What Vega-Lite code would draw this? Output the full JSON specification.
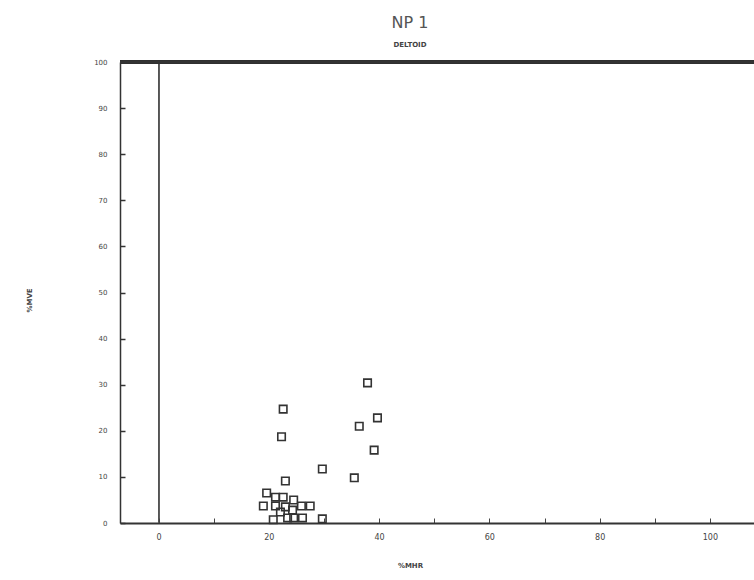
{
  "$schema": "https://vega.github.io/schema/vega-lite/v6.json",
  "width": 634,
  "height": 461,
  "autosize": {"type": "none"},
  "padding": {"left": 120, "top": 62, "right": 0, "bottom": 57},
  "background": "white",
  "config": {
    "view": {"stroke": null},
    "font": "DejaVu Sans"
  },
  "title": {
    "text": "NP 1",
    "subtitle": "DELTOID",
    "anchor": "middle",
    "dx": -27,
    "offset": 10,
    "fontSize": 16,
    "fontWeight": "normal",
    "color": "#555555",
    "subtitleFontSize": 7,
    "subtitleFontWeight": "bold",
    "subtitleColor": "#444444",
    "subtitlePadding": 10
  },
  "data": {
    "values": [
      {"mhr": 37.9, "mve": 30.4},
      {"mhr": 22.6, "mve": 24.7},
      {"mhr": 39.7, "mve": 22.8},
      {"mhr": 36.4, "mve": 21.0},
      {"mhr": 22.3, "mve": 18.7},
      {"mhr": 39.1, "mve": 15.8},
      {"mhr": 29.7, "mve": 11.7},
      {"mhr": 35.5, "mve": 9.8},
      {"mhr": 23.0, "mve": 9.1},
      {"mhr": 19.6, "mve": 6.5},
      {"mhr": 21.2, "mve": 5.6},
      {"mhr": 22.6, "mve": 5.6},
      {"mhr": 19.0, "mve": 3.7},
      {"mhr": 21.2, "mve": 3.7},
      {"mhr": 24.5, "mve": 5.0},
      {"mhr": 25.9, "mve": 3.7},
      {"mhr": 27.5, "mve": 3.7},
      {"mhr": 24.3, "mve": 2.8},
      {"mhr": 22.1, "mve": 2.4},
      {"mhr": 23.0, "mve": 3.5},
      {"mhr": 20.8, "mve": 0.7},
      {"mhr": 23.4, "mve": 1.1},
      {"mhr": 24.5, "mve": 1.1},
      {"mhr": 26.1, "mve": 1.1},
      {"mhr": 29.7, "mve": 0.9}
    ]
  },
  "layer": [
    {
      "mark": {"type": "rule", "color": "#555555", "strokeWidth": 1},
      "encoding": {"x": {"datum": 0, "type": "quantitative"}}
    },
    {
      "mark": {"type": "rule", "color": "#333333", "strokeWidth": 2.5},
      "encoding": {"y": {"datum": 100, "type": "quantitative"}}
    },
    {
      "mark": {"type": "point", "shape": "square", "size": 56, "filled": false, "stroke": "#333333", "strokeWidth": 1.6, "opacity": 1},
      "encoding": {
        "x": {
          "field": "mhr",
          "type": "quantitative",
          "scale": {"domain": [-7, 108], "nice": false, "zero": false},
          "axis": {
            "title": "%MHR",
            "titleFontSize": 7,
            "titleFontWeight": "bold",
            "titleColor": "#444444",
            "titleX": 290,
            "titleY": 38,
            "titleAnchor": "middle",
            "values": [0, 10, 20, 30, 40, 50, 60, 70, 80, 90, 100],
            "labelExpr": "datum.value % 20 === 0 ? datum.label : ''",
            "labelFontSize": 8,
            "labelColor": "#444444",
            "labelPadding": 15,
            "tickSize": -5,
            "tickColor": "#444444",
            "tickWidth": 1,
            "domainColor": "#333333",
            "domainWidth": 2,
            "grid": false
          }
        },
        "y": {
          "field": "mve",
          "type": "quantitative",
          "scale": {"domain": [0, 100], "nice": false},
          "axis": {
            "title": "%MVE",
            "titleFontSize": 7,
            "titleFontWeight": "bold",
            "titleColor": "#444444",
            "titleX": -88,
            "titleY": 238,
            "titleAnchor": "middle",
            "values": [0, 10, 20, 30, 40, 50, 60, 70, 80, 90, 100],
            "labelFontSize": 7,
            "labelColor": "#444444",
            "labelPadding": 18,
            "tickSize": -5,
            "tickColor": "#333333",
            "tickWidth": 1.5,
            "domainColor": "#333333",
            "domainWidth": 1.5,
            "grid": false
          }
        }
      }
    }
  ]
}
